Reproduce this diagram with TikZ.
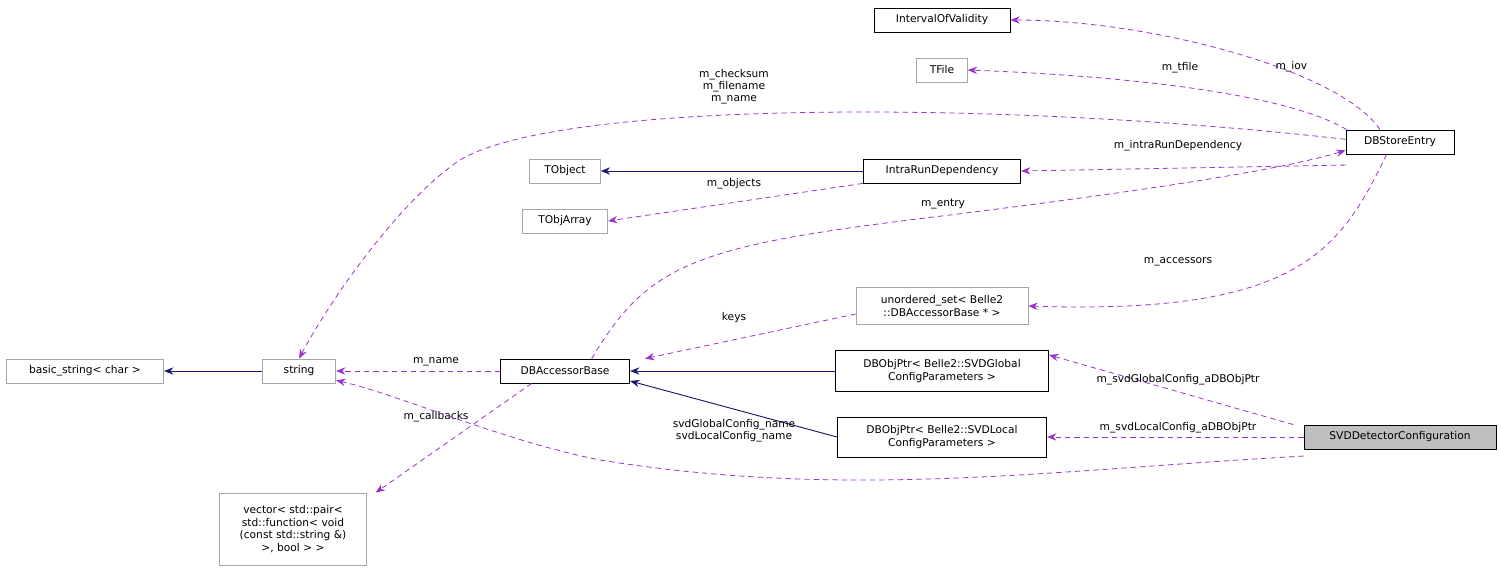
\documentclass[tikz,border=0pt]{standalone}
\usepackage{fontspec}
\setmainfont{DejaVu Sans}
\usetikzlibrary{arrows.meta}
\definecolor{navy}{HTML}{191970}
\definecolor{purp}{HTML}{9A32CD}
\begin{document}
\begin{tikzpicture}[x=0.75pt,y=-0.75pt,
  every node/.style={font=\fontsize{8}{9.5}\selectfont,inner sep=0pt},
  bx/.style={draw=black,fill=white,minimum height=18pt,align=center,line width=0.6pt},
  gbx/.style={draw=gray!70,fill=white,minimum height=18pt,align=center,line width=0.6pt},
  inh/.style={draw=navy,line width=0.7pt,-{Stealth[length=7pt,width=5.5pt]}},
  use/.style={draw=purp,dashed,line width=0.6pt,dash pattern=on 4pt off 3pt,-{Stealth[length=7pt,width=5.5pt]}},
  lab/.style={font=\fontsize{8}{9}\selectfont,align=center}]
\useasboundingbox (0,0) rectangle (1501,571);
\node[bx,minimum width=102pt] (iov) at (942,20) {IntervalOfValidity};
\node[gbx,minimum width=38pt] (tfile) at (942,70) {TFile};
\node[bx,minimum width=81pt] (dbse) at (1400,142) {DBStoreEntry};
\node[gbx,minimum width=53pt] (tobj) at (565,171) {TObject};
\node[bx,minimum width=118pt] (ird) at (942,171) {IntraRunDependency};
\node[gbx,minimum width=64pt] (toa) at (565,221) {TObjArray};
\node[gbx,minimum width=129pt,minimum height=28pt] (uset) at (942,306) {unordered\_set< Belle2\\::DBAccessorBase * >};
\node[gbx,minimum width=118pt] (bstr) at (85,371) {basic\_string< char >};
\node[gbx,minimum width=55pt] (str) at (299,371) {string};
\node[bx,minimum width=97pt] (dba) at (565,371) {DBAccessorBase};
\node[bx,minimum width=160pt,minimum height=31pt] (glob) at (942,371) {DBObjPtr< Belle2::SVDGlobal\\ConfigParameters >};
\node[bx,minimum width=157pt,minimum height=30pt] (loc) at (942,437) {DBObjPtr< Belle2::SVDLocal\\ConfigParameters >};
\node[bx,fill=gray!50,minimum width=144pt] (svd) at (1400,437) {SVDDetectorConfiguration};
\node[gbx,minimum width=110pt,minimum height=54pt] (vec) at (293,529) {vector< std::pair<\\ std::function< void\\ (const std::string \&)\\ >, bool > >};

\draw[inh] (str.west) -- (bstr.east);
\draw[inh] (ird.west) -- (tobj.east);
\draw[inh] (glob.west) -- (dba.east);
\draw[inh] (loc.west) -- ([yshift=-7.5pt]dba.east);

\draw[use] ([xshift=-15]dbse.north) .. controls (1340,70) and (1150,20) .. (iov.east) node[lab,pos=0.35,above] {m\_iov};
\draw[use] ([xshift=-40]dbse.north) .. controls (1280,90) and (1100,75) .. (tfile.east);
\node[lab] (ltf) at (1180,68) {m\_tfile};
\draw[use] ([yshift=2]dbse.west) .. controls (1000,100) and (560,100) .. (460,160) .. controls (400,200) and (330,300) .. (str.north);
\node[lab] (lck) at (734,87) {m\_checksum\\m\_filename\\m\_name};
\draw[use] ([yshift=-8]dbse.south west) -- (ird.east);
\node[lab] (lird) at (1178,146) {m\_intraRunDependency};
\draw[use] (ird.south west) -- (toa.east);
\node[lab] (lobj) at (734,184) {m\_objects};
\draw[use] ([xshift=20]dba.north) .. controls (650,260) and (700,245) .. (950,215) .. controls (1150,190) and (1280,170) .. ([yshift=3]dbse.south west);
\node[lab] (lent) at (943,204) {m\_entry};
\draw[use] ([xshift=-10]dbse.south) .. controls (1340,250) and (1300,315) .. (uset.east);
\node[lab] (lacc) at (1178,262) {m\_accessors};
\draw[use] ([yshift=-6]uset.west) -- ([xshift=60]dba.north);
\node[lab] (lkeys) at (734,318) {keys};
\draw[use] (dba.west) -- (str.east);
\node[lab] (lnm) at (436,362) {m\_name};
\draw[use] ([xshift=-25]dba.south) -- ([xshift=62]vec.north);
\node[lab] (lcb) at (436,417) {m\_callbacks};
\draw[use] ([xshift=-80]svd.north) -- ([yshift=12]glob.east);
\node[lab] (lg) at (1178,380) {m\_svdGlobalConfig\_aDBObjPtr};
\draw[use] (svd.west) -- (loc.east);
\node[lab] (ll) at (1178,428) {m\_svdLocalConfig\_aDBObjPtr};
\draw[use] ([yshift=-5]svd.south west) .. controls (1050,470) and (850,500) .. (600,460) .. controls (500,440) and (400,395) .. ([yshift=-7]str.east);
\node[lab] (lsn) at (734,431) {svdGlobalConfig\_name\\svdLocalConfig\_name};
\end{tikzpicture}
\end{document}
